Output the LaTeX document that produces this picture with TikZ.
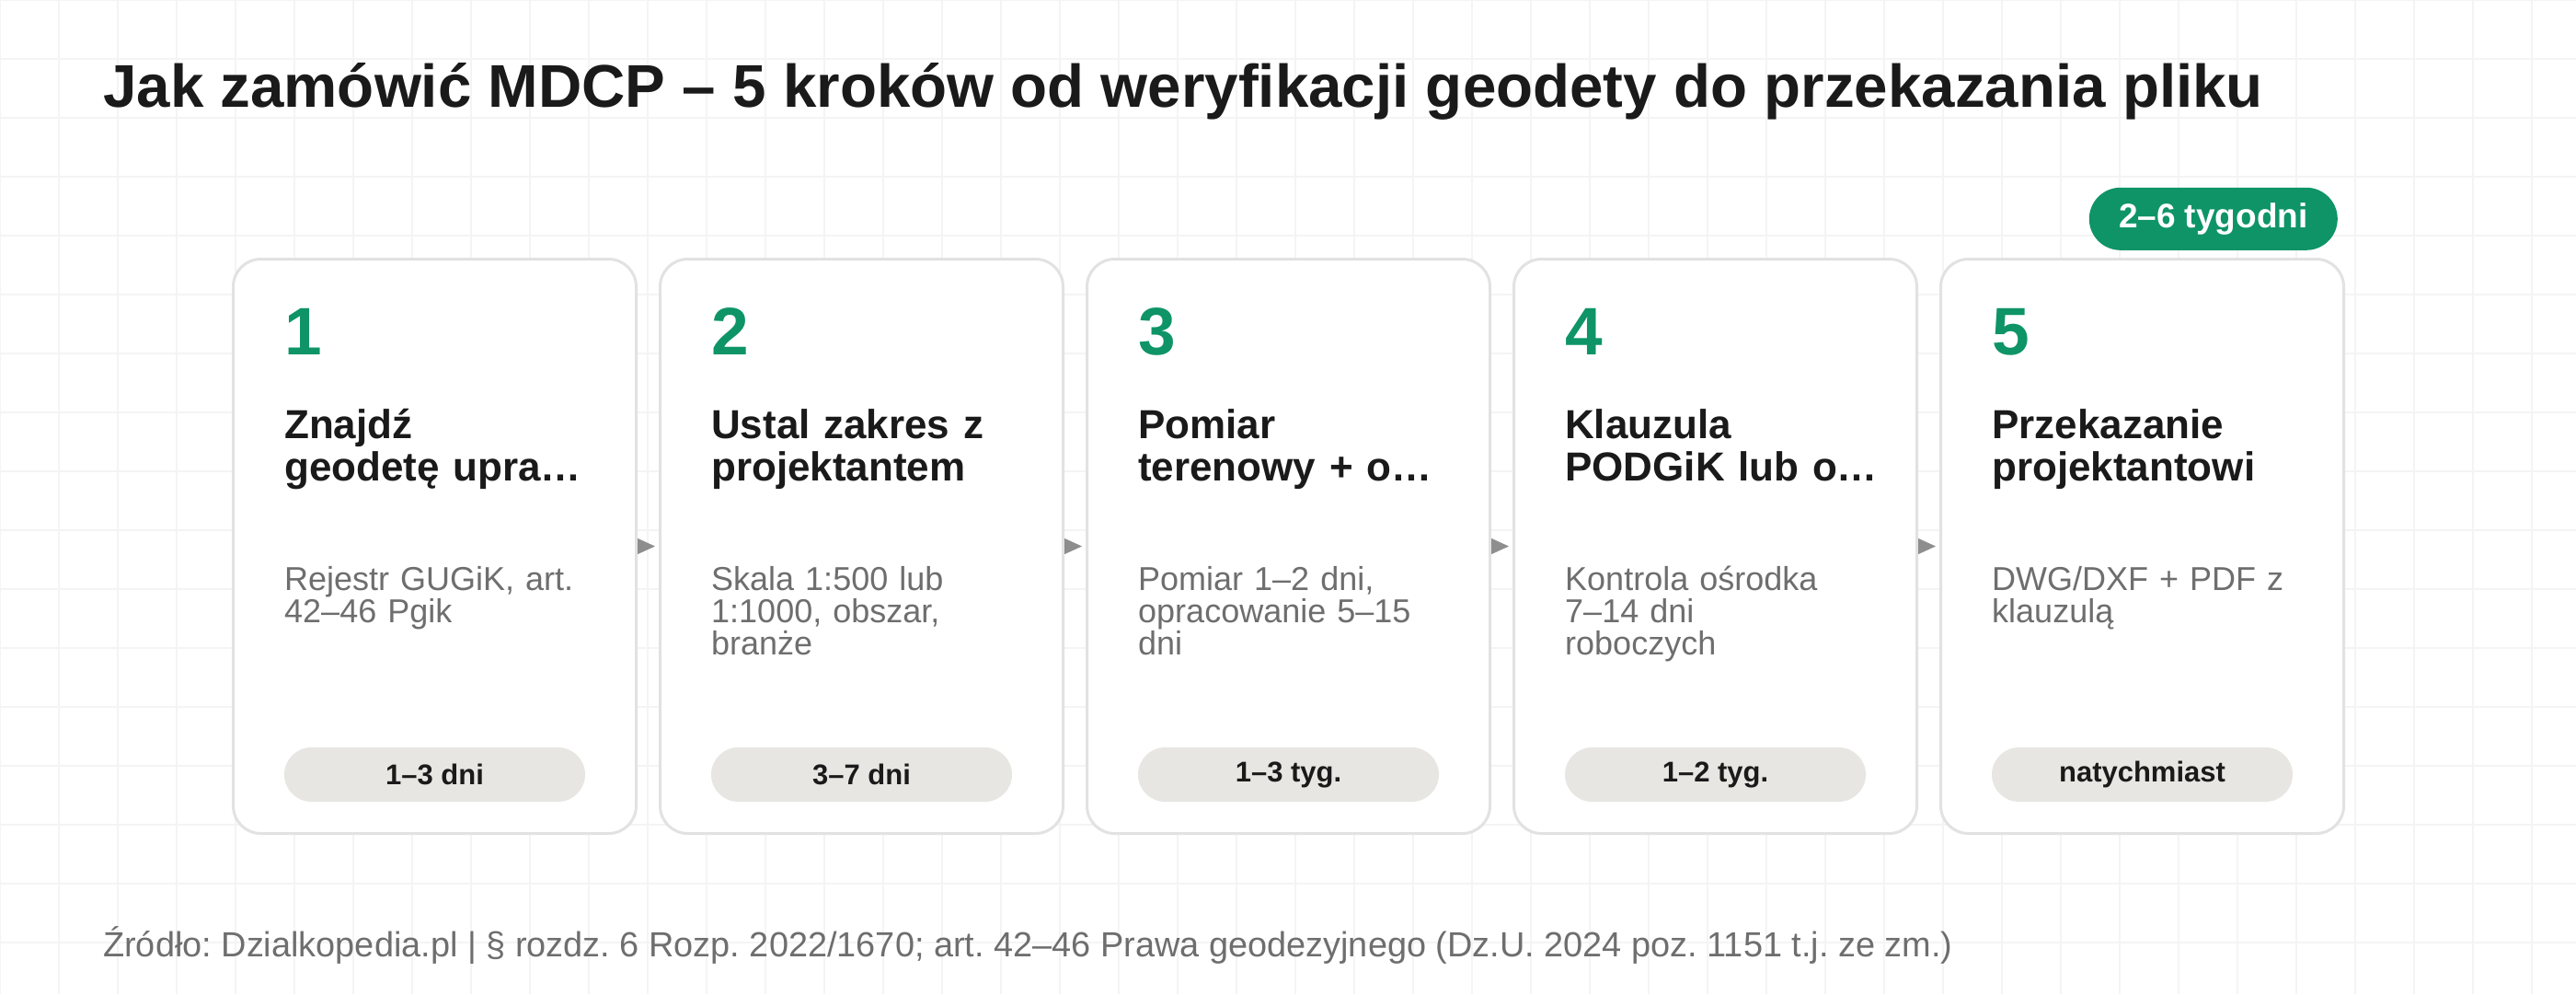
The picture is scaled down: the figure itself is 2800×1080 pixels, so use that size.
\documentclass[tikz,border=0pt]{standalone}
\usepackage{fontspec}
\setmainfont{Liberation Sans}
\usetikzlibrary{positioning,calc,arrows.meta}

\definecolor{stepgreen}{HTML}{0E9467}
\definecolor{cardline}{HTML}{E2E2E2}
\definecolor{pillfill}{HTML}{E8E6E2}
\definecolor{darktext}{HTML}{1A1A1A}
\definecolor{softtext}{HTML}{6E6E6E}
\definecolor{arrowgray}{HTML}{8E8E8E}
\definecolor{gridgray}{HTML}{F4F4F4}

\tikzset{
    card/.style={draw=cardline, line width=3pt, fill=white, rounded corners=30pt,
        minimum width=438pt, minimum height=624pt, inner sep=0pt},
    stepnum/.style={anchor=base west, inner sep=0pt, text=stepgreen,
        font=\fontsize{73}{73}\selectfont\bfseries},
    steptitle/.style={anchor=base west, inner sep=0pt, text width=420pt, align=left,
        text=darktext, font=\fontsize{44}{46}\selectfont\bfseries},
    stepdesc/.style={anchor=base west, inner sep=0pt, text width=420pt, align=left,
        text=softtext, font=\fontsize{36}{35}\selectfont},
    pill/.style={fill=pillfill, rounded corners=29.5pt, minimum width=327pt,
        minimum height=59pt, inner sep=0pt, text=darktext,
        font=\fontsize{31}{31}\selectfont\bfseries},
    badge/.style={fill=stepgreen, rounded corners=34pt, minimum width=270pt,
        minimum height=68pt, inner sep=0pt, text=white,
        font=\fontsize{37}{37}\selectfont\bfseries},
    flow/.style={draw=arrowgray, line width=1pt,
        -{Triangle[length=19pt,width=17pt]}, shorten >=4pt},
}

\begin{document}
\frenchspacing
\begin{tikzpicture}[x=1pt,y=1pt] % MDCP order steps, one card per step
    \useasboundingbox (0,0) rectangle (2800,-1080);
    \fill[white] (0,0) rectangle (2800,-1080);
    \draw[gridgray, line width=1.5pt, step=64] (0,-1080) grid (2800,0);

    \node[anchor=base west, inner sep=0pt, text=darktext,
        font=\fontsize{65.5}{66}\selectfont\bfseries] (title) at (112,-116)
        {Jak zamówić MDCP – 5 kroków od weryfikacji geodety do przekazania pliku};

    \node[card] (c1) at (472.5,-593.5) {};
    \node[card, right=23pt of c1] (c2) {};
    \node[card, right=23pt of c2] (c3) {};
    \node[card, right=23pt of c3] (c4) {};
    \node[card, right=23pt of c4] (c5) {};

    \node[stepnum] (n1) at ($(c1.north west)+(57,-105)$) {1};
    \node[steptitle] (t1) at ($(c1.north west)+(57,-196)$) {Znajdź\\geodetę upra…};
    \node[stepdesc] (d1) at ($(c1.north west)+(57,-361)$) {Rejestr GUGiK, art.\\42–46 Pgik};
    \node[pill] (p1) at ($(c1.south)+(0,65.5)$) {1–3 dni};

    \node[stepnum] (n2) at ($(c2.north west)+(57,-105)$) {2};
    \node[steptitle] (t2) at ($(c2.north west)+(57,-196)$) {Ustal zakres z\\projektantem};
    \node[stepdesc] (d2) at ($(c2.north west)+(57,-361)$) {Skala 1:500 lub\\1:1000, obszar,\\branże};
    \node[pill] (p2) at ($(c2.south)+(0,65.5)$) {3–7 dni};

    \node[stepnum] (n3) at ($(c3.north west)+(57,-105)$) {3};
    \node[steptitle] (t3) at ($(c3.north west)+(57,-196)$) {Pomiar\\terenowy + o…};
    \node[stepdesc] (d3) at ($(c3.north west)+(57,-361)$) {Pomiar 1–2 dni,\\opracowanie 5–15\\dni};
    \node[pill] (p3) at ($(c3.south)+(0,65.5)$) {1–3 tyg.};

    \node[stepnum] (n4) at ($(c4.north west)+(57,-105)$) {4};
    \node[steptitle] (t4) at ($(c4.north west)+(57,-196)$) {Klauzula\\PODGiK lub o…};
    \node[stepdesc] (d4) at ($(c4.north west)+(57,-361)$) {Kontrola ośrodka\\7–14 dni\\roboczych};
    \node[pill] (p4) at ($(c4.south)+(0,65.5)$) {1–2 tyg.};

    \node[stepnum] (n5) at ($(c5.north west)+(57,-105)$) {5};
    \node[steptitle] (t5) at ($(c5.north west)+(57,-196)$) {Przekazanie\\projektantowi};
    \node[stepdesc] (d5) at ($(c5.north west)+(57,-361)$) {DWG/DXF + PDF z\\klauzulą};
    \node[pill] (p5) at ($(c5.south)+(0,65.5)$) {natychmiast};

    \node[badge, above left=8pt and 8pt of c5.north east] (total) {2–6 tygodni};

    \draw[flow] (c1) -- (c2);
    \draw[flow] (c2) -- (c3);
    \draw[flow] (c3) -- (c4);
    \draw[flow] (c4) -- (c5);

    \node[anchor=base west, inner sep=0pt, text=softtext,
        font=\fontsize{37.9}{38}\selectfont] (source) at (112,-1039)
        {Źródło: Dzialkopedia.pl | § rozdz. 6 Rozp. 2022/1670; art. 42–46 Prawa geodezyjnego (Dz.U. 2024 poz. 1151 t.j. ze zm.)};
\end{tikzpicture}
\end{document}
